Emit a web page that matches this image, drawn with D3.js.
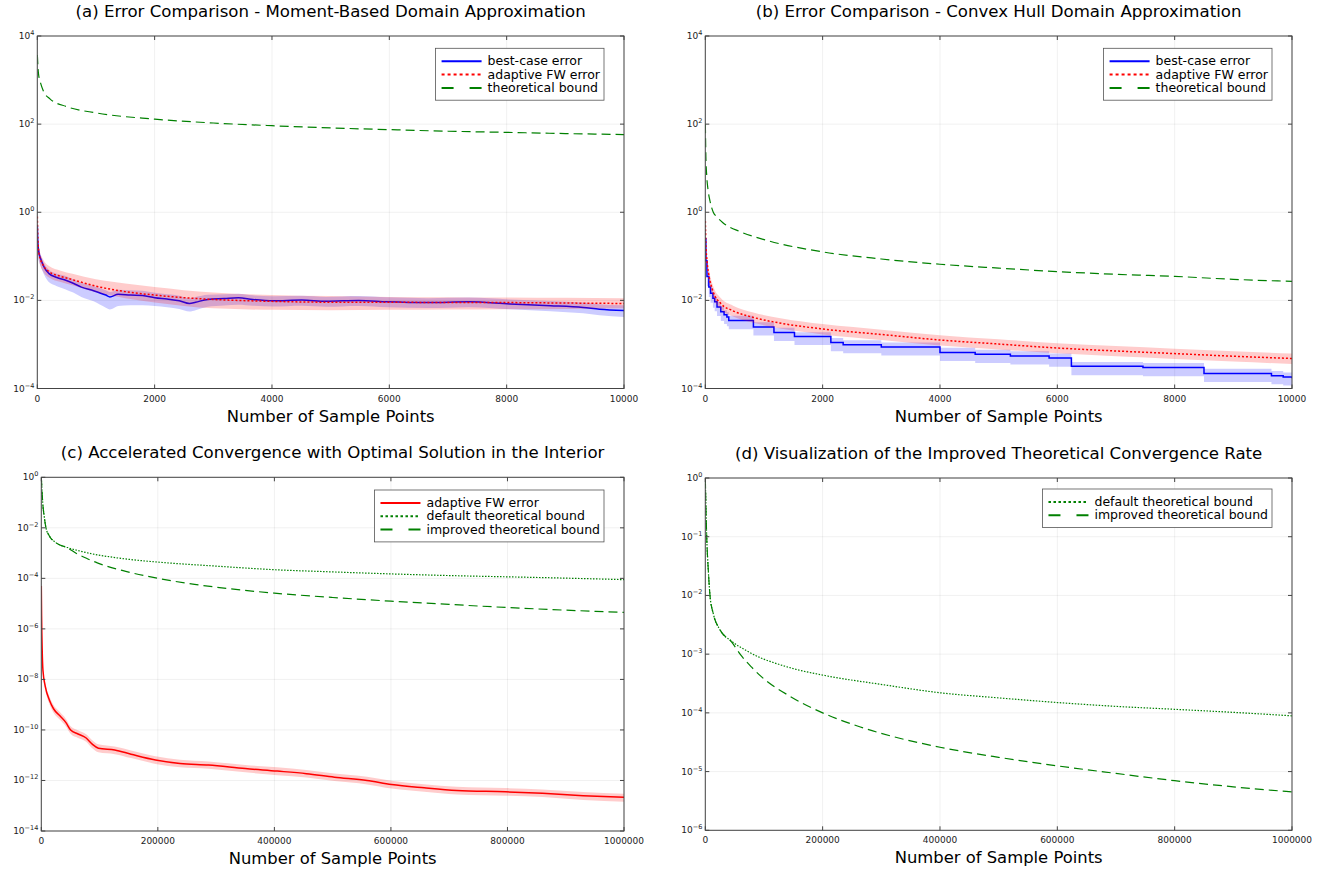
<!DOCTYPE html>
<html>
<head>
<meta charset="utf-8">
<script src="https://cdn.jsdelivr.net/npm/d3@7"></script>
<style>
  body { margin: 0; background: #fff; }
  text { font-family: "DejaVu Sans", sans-serif; fill: #000; }
</style>
</head>
<body>
<div id="chart"></div>
<script>
// ---------- panel (a): moment-based domain ----------
const aBestN = [1, 10, 30, 56, 125, 195, 334, 473, 612, 751, 960, 1168, 1238, 1377, 1585, 1794, 2003, 2211, 2420, 2594, 2698, 2907, 3185, 3428, 3672, 4019, 4506, 4923, 5480, 5967, 6662, 7357, 8053, 8748, 9305, 9583, 10000];
const aBest = [0.5, 0.2, 0.117, 0.089, 0.054, 0.041, 0.033, 0.029, 0.0245, 0.020, 0.0166, 0.0132, 0.012, 0.0138, 0.0132, 0.0129, 0.0115, 0.0107, 0.0098, 0.0085, 0.0091, 0.0105, 0.011, 0.0115, 0.0105, 0.0098, 0.0102, 0.0095, 0.010, 0.0093, 0.0089, 0.0093, 0.0083, 0.0076, 0.0069, 0.0063, 0.0059];
const aBestHi = [0.9, 0.3, 0.15, 0.11, 0.066, 0.05, 0.04, 0.036, 0.03, 0.025, 0.021, 0.017, 0.0155, 0.0175, 0.017, 0.0165, 0.0148, 0.0138, 0.0128, 0.0112, 0.012, 0.0135, 0.0138, 0.0142, 0.013, 0.0124, 0.0128, 0.012, 0.0125, 0.0117, 0.0112, 0.0116, 0.0105, 0.0097, 0.0089, 0.0082, 0.0078];
const aBestLo = [0.2, 0.1, 0.075, 0.06, 0.036, 0.026, 0.021, 0.018, 0.015, 0.012, 0.0095, 0.0068, 0.0062, 0.0075, 0.0078, 0.0078, 0.0075, 0.007, 0.0064, 0.0056, 0.006, 0.0072, 0.0077, 0.008, 0.0076, 0.0073, 0.0076, 0.0072, 0.0075, 0.007, 0.0067, 0.007, 0.0063, 0.0057, 0.0051, 0.0046, 0.0042];

const aFwN = [1, 10, 30, 100, 200, 400, 600, 1000, 1500, 2000, 2500, 3000, 4000, 5000, 6000, 7000, 8000, 9000, 10000];
const aFw = [0.8, 0.25, 0.112, 0.063, 0.045, 0.035, 0.0295, 0.021, 0.0158, 0.0132, 0.0115, 0.0105, 0.0095, 0.0091, 0.0091, 0.0089, 0.0089, 0.0087, 0.0085];
const aFwHi = [1.1, 0.35, 0.15, 0.085, 0.06, 0.047, 0.04, 0.03, 0.024, 0.020, 0.017, 0.015, 0.0132, 0.0125, 0.012, 0.0118, 0.0116, 0.0114, 0.0112];
const aFwLo = [0.5, 0.17, 0.08, 0.045, 0.033, 0.026, 0.022, 0.0152, 0.0112, 0.009, 0.0075, 0.0066, 0.0061, 0.006, 0.0061, 0.0062, 0.0063, 0.0064, 0.0066];

const aBoundN = [1, 20, 63, 100, 220, 500, 1000, 2000, 3000, 4000, 5000, 6000, 7000, 8000, 9000, 10000];
const aBound = [3700, 1400, 800, 580, 370, 250, 180, 130, 106, 92, 82, 75, 69, 65, 61, 58];

// ---------- panel (b): convex hull domain ----------
const bBestN = [1, 10, 28, 60, 90, 130, 160, 200, 264, 320, 368, 400, 820, 1170, 1520, 2140, 2350, 3000, 4000, 4600, 5200, 5860, 6240, 7460, 8500, 9650, 9850, 10000];
const bBest = [0.25, 0.079, 0.035, 0.02, 0.0145, 0.0112, 0.0093, 0.0071, 0.0055, 0.0047, 0.0042, 0.0035, 0.0025, 0.00186, 0.00151, 0.0011, 0.00098, 0.00087, 0.00066, 0.0006, 0.00055, 0.00049, 0.00032, 0.0003, 0.00022, 0.000195, 0.000182, 0.00017];
const bBestHi = [0.4, 0.11, 0.046, 0.026, 0.019, 0.0145, 0.012, 0.0092, 0.0071, 0.006, 0.0054, 0.0045, 0.0032, 0.0024, 0.0019, 0.0014, 0.00125, 0.0011, 0.00084, 0.00076, 0.0007, 0.00062, 0.0004, 0.00038, 0.00028, 0.00025, 0.00023, 0.00021];
const bBestLo = [0.12, 0.045, 0.021, 0.012, 0.0088, 0.0068, 0.0057, 0.0044, 0.0034, 0.0029, 0.0026, 0.0022, 0.0016, 0.0012, 0.00097, 0.0007, 0.00063, 0.00056, 0.00042, 0.00038, 0.00035, 0.00031, 0.0002, 0.00019, 0.00014, 0.000125, 0.000117, 0.00011];

const bFwN = [1, 10, 28, 56, 125, 264, 473, 820, 1307, 2000, 3050, 4000, 5000, 6000, 7000, 8000, 9000, 10000];
const bFw = [0.63, 0.2, 0.081, 0.041, 0.017, 0.0085, 0.0058, 0.0041, 0.0030, 0.00224, 0.00166, 0.00126, 0.00102, 0.00083, 0.00071, 0.00062, 0.00054, 0.00048];
const bFwHi = [0.85, 0.27, 0.11, 0.056, 0.023, 0.0113, 0.0076, 0.0053, 0.0039, 0.0029, 0.00214, 0.00162, 0.00131, 0.00107, 0.00092, 0.0008, 0.0007, 0.00062];
const bFwLo = [0.45, 0.15, 0.06, 0.03, 0.0125, 0.0063, 0.0043, 0.0031, 0.00226, 0.00169, 0.00125, 0.00095, 0.00077, 0.00063, 0.00054, 0.00047, 0.00041, 0.00036];

const bBoundN = [1, 10, 25, 50, 80, 136, 200, 300, 600, 1000, 2000, 3000, 4000, 5000, 6000, 7000, 8000, 9000, 10000];
const bBound = [100, 18, 6.5, 3.0, 1.8, 1.0, 0.78, 0.58, 0.36, 0.24, 0.126, 0.087, 0.066, 0.054, 0.045, 0.039, 0.035, 0.030, 0.027];

// ---------- panels (c), (d): interior optimum ----------
const cFwN = [1, 500, 1500, 2800, 7000, 14000, 21000, 31500, 42000, 50300, 63000, 77000, 87400, 98000, 126000, 154000, 196000, 238000, 287000, 350000, 405000, 455000, 503000, 559000, 601000, 657000, 713000, 797000, 860000, 930000, 1000000];
const cFw = [5e-5, 3.2e-6, 1.6e-7, 2.3e-8, 5.1e-9, 1.5e-9, 6.9e-10, 3.7e-10, 2.0e-10, 1.0e-10, 6.9e-11, 4.8e-11, 2.75e-11, 1.9e-11, 1.6e-11, 1.1e-11, 6.5e-12, 4.7e-12, 4.1e-12, 2.95e-12, 2.35e-12, 1.86e-12, 1.35e-12, 1.0e-12, 6.9e-13, 5.1e-13, 4.0e-13, 3.55e-13, 3.1e-13, 2.5e-13, 2.15e-13];
const cFwHi = [7e-5, 4.5e-6, 2.2e-7, 3.2e-8, 7.1e-9, 2.1e-9, 9.7e-10, 5.2e-10, 2.8e-10, 1.4e-10, 9.7e-11, 6.7e-11, 3.9e-11, 2.7e-11, 2.2e-11, 1.55e-11, 9.1e-12, 6.6e-12, 5.7e-12, 4.1e-12, 3.3e-12, 2.6e-12, 1.9e-12, 1.4e-12, 9.7e-13, 7.1e-13, 5.6e-13, 5.0e-13, 4.4e-13, 3.5e-13, 3.0e-13];
const cFwLo = [3.5e-5, 2.2e-6, 1.1e-7, 1.6e-8, 3.6e-9, 1.05e-9, 4.8e-10, 2.6e-10, 1.4e-10, 7e-11, 4.8e-11, 3.4e-11, 1.9e-11, 1.3e-11, 1.1e-11, 7.7e-12, 4.5e-12, 3.3e-12, 2.9e-12, 2.1e-12, 1.6e-12, 1.3e-12, 9.5e-13, 7e-13, 4.8e-13, 3.6e-13, 2.8e-13, 2.5e-13, 2.2e-13, 1.7e-13, 1.45e-13];

const defaultN = [1, 2400, 5100, 8000, 13600, 25000, 45000, 70000, 96000, 116000, 152000, 200000, 305000, 400000, 500000, 600000, 700000, 800000, 900000, 1000000];
const defaultBound = [1, 0.1, 0.027, 0.01, 0.0049, 0.0026, 0.00166, 0.00115, 0.00085, 0.00072, 0.00056, 0.00044, 0.0003, 0.00022, 0.00018, 0.00015, 0.000129, 0.000115, 0.000102, 8.9e-5];
const improvedN = [1, 2400, 5100, 8000, 13600, 25000, 45000, 61000, 79000, 96000, 145000, 200000, 263000, 318000, 400000, 500000, 600000, 700000, 800000, 900000, 1000000];
const improvedBound = [1, 0.1, 0.027, 0.01, 0.0049, 0.0026, 0.0016, 0.00095, 0.0006, 0.00041, 0.00019, 0.0001, 5.8e-5, 4.0e-5, 2.6e-5, 1.75e-5, 1.25e-5, 9.3e-6, 7.0e-6, 5.5e-6, 4.5e-6];

// tick labels
const smallXTicks = [0, 2000, 4000, 6000, 8000, 10000];
const bigXTicks = [0, 200000, 400000, 600000, 800000, 1000000];
const abExponents = [-4, -2, 0, 2, 4];
const cExponents = [-14, -12, -10, -8, -6, -4, -2, 0];
const dExponents = [-6, -5, -4, -3, -2, -1, 0];

const titles = [
  "(a) Error Comparison - Moment-Based Domain Approximation",
  "(b) Error Comparison - Convex Hull Domain Approximation",
  "(c) Accelerated Convergence with Optimal Solution in the Interior",
  "(d) Visualization of the Improved Theoretical Convergence Rate"
];
const xLabel = "Number of Sample Points";

const BLUE = '#0000ff', RED = '#ff0000', GREEN = '#008000';
const styles = {
  best: { color: BLUE, dash: null, width: 1.5, legendDash: null },
  fw: { color: RED, dash: '2,2', width: 1.5, legendDash: '3,3' },
  fwSolid: { color: RED, dash: null, width: 1.5, legendDash: null },
  bound: { color: GREEN, dash: '9,5', width: 1.2, legendDash: '12,16' },
  dflt: { color: GREEN, dash: '1.5,1.5', width: 1.2, legendDash: '2.5,2.5' },
};

const zip = (n, v) => n.map((d, i) => [d, v[i]]);

const svg = d3.select('#chart')
  .append('svg')
  .attr('width', 1328)
  .attr('height', 873);

let clipId = 0;

function drawPanel(p) {
  const x = d3.scaleLinear().domain([0, p.xMax]).range([p.left, p.right]);
  const y = d3.scaleLog().domain([Math.pow(10, p.exps[0]), Math.pow(10, p.exps[p.exps.length - 1])]).range([p.bottom, p.top]);
  const g = svg.append('g');

  // grid
  g.selectAll('.gx').data(p.xTicks).enter().append('line')
    .attr('x1', d => x(d)).attr('x2', d => x(d))
    .attr('y1', p.top).attr('y2', p.bottom)
    .attr('stroke', '#000').attr('stroke-opacity', 0.1).attr('stroke-width', 0.6);
  g.selectAll('.gy').data(p.exps).enter().append('line')
    .attr('x1', p.left).attr('x2', p.right)
    .attr('y1', d => y(Math.pow(10, d))).attr('y2', d => y(Math.pow(10, d)))
    .attr('stroke', '#000').attr('stroke-opacity', 0.1).attr('stroke-width', 0.6);

  // series
  clipId++;
  svg.append('clipPath').attr('id', 'clip' + clipId)
    .append('rect').attr('x', p.left).attr('y', p.top)
    .attr('width', p.right - p.left).attr('height', p.bottom - p.top);
  const plot = g.append('g').attr('clip-path', `url(#clip${clipId})`);

  p.series.forEach(s => {
    const curve = s.step ? d3.curveStepAfter : d3.curveMonotoneX;
    if (s.lo) {
      const area = d3.area()
        .x(d => x(d[0])).y0(d => y(d[1])).y1(d => y(d[2]))
        .curve(curve);
      plot.append('path')
        .datum(s.n.map((d, i) => [d, s.lo[i], s.hi[i]]))
        .attr('d', area)
        .attr('fill', s.style.color)
        .attr('fill-opacity', 0.2);
    }
    const line = d3.line().x(d => x(d[0])).y(d => y(d[1])).curve(curve);
    plot.append('path')
      .datum(zip(s.n, s.v))
      .attr('d', line)
      .attr('fill', 'none')
      .attr('stroke', s.style.color)
      .attr('stroke-width', s.style.width)
      .attr('stroke-dasharray', s.style.dash);
  });

  // frame and ticks
  g.append('rect')
    .attr('x', p.left).attr('y', p.top)
    .attr('width', p.right - p.left).attr('height', p.bottom - p.top)
    .attr('fill', 'none').attr('stroke', '#444').attr('stroke-width', 1);
  p.exps.forEach(e => {
    const yy = y(Math.pow(10, e));
    g.append('line').attr('x1', p.left).attr('x2', p.left + 4).attr('y1', yy).attr('y2', yy).attr('stroke', '#444');
    g.append('line').attr('x1', p.right - 4).attr('x2', p.right).attr('y1', yy).attr('y2', yy).attr('stroke', '#444');
    const t = g.append('text')
      .attr('x', p.left - 3)
      .attr('y', yy + 3)
      .attr('text-anchor', 'end')
      .attr('font-size', 9)
      .style('fill', '#222')
      .text('10');
    t.append('tspan')
      .attr('dy', -4)
      .attr('font-size', 6.5)
      .text(String(e).replace('-', '\u2212'));
  });
  p.xTicks.forEach(v => {
    g.append('line').attr('x1', x(v)).attr('x2', x(v)).attr('y1', p.bottom).attr('y2', p.bottom - 4).attr('stroke', '#444');
    g.append('line').attr('x1', x(v)).attr('x2', x(v)).attr('y1', p.top).attr('y2', p.top + 4).attr('stroke', '#444');
    g.append('text')
      .attr('x', x(v))
      .attr('y', p.bottom + 13)
      .attr('text-anchor', 'middle')
      .attr('font-size', 9)
      .style('fill', '#222')
      .text(v);
  });

  // title + axis label
  g.append('text')
    .attr('x', (p.left + p.right) / 2)
    .attr('y', p.top - 19)
    .attr('text-anchor', 'middle')
    .attr('font-size', 16.6)
    .text(p.title);
  g.append('text')
    .attr('x', (p.left + p.right) / 2)
    .attr('y', p.bottom + 33)
    .attr('text-anchor', 'middle')
    .attr('font-size', 16.4)
    .text(xLabel);

  // legend
  const lg = g.append('g');
  const rowH = 13.3;
  const box = lg.append('rect')
    .attr('fill', '#fff').attr('stroke', '#555').attr('stroke-width', 0.8);
  let maxW = 0;
  p.legend.forEach((it, i) => {
    const cy = p.legendTop + 13 + i * rowH;
    lg.append('line')
      .attr('x1', 0).attr('x2', 40).attr('y1', cy).attr('y2', cy)
      .attr('stroke', it.style.color).attr('stroke-width', 2)
      .attr('stroke-dasharray', it.style.legendDash);
    const t = lg.append('text')
      .attr('x', 46).attr('y', cy + 4)
      .attr('font-size', 12.5)
      .text(it.label);
    maxW = Math.max(maxW, t.node().getComputedTextLength());
  });
  const boxW = 6 + 46 + maxW + 4;
  const boxX = p.right - 20 - boxW;
  box.attr('x', 0).attr('y', p.legendTop)
    .attr('width', boxW).attr('height', p.legend.length * rowH + 12);
  lg.selectAll('line, text').attr('transform', 'translate(6,0)');
  lg.attr('transform', `translate(${boxX},0)`);
}

drawPanel({
  left: 37.3, right: 624, top: 36, bottom: 388.5,
  xMax: 10000, xTicks: smallXTicks, exps: abExponents,
  title: titles[0], legendTop: 48.3,
  series: [
    { n: aBestN, v: aBest, lo: aBestLo, hi: aBestHi, style: styles.best },
    { n: aFwN, v: aFw, lo: aFwLo, hi: aFwHi, style: styles.fw },
    { n: aBoundN, v: aBound, style: styles.bound }
  ],
  legend: [
    { label: 'best-case error', style: styles.best },
    { label: 'adaptive FW error', style: styles.fw },
    { label: 'theoretical bound', style: styles.bound }
  ]
});

drawPanel({
  left: 705.3, right: 1292, top: 36, bottom: 388.5,
  xMax: 10000, xTicks: smallXTicks, exps: abExponents,
  title: titles[1], legendTop: 48.3,
  series: [
    { n: bBestN, v: bBest, lo: bBestLo, hi: bBestHi, style: styles.best, step: true },
    { n: bFwN, v: bFw, lo: bFwLo, hi: bFwHi, style: styles.fw },
    { n: bBoundN, v: bBound, style: styles.bound }
  ],
  legend: [
    { label: 'best-case error', style: styles.best },
    { label: 'adaptive FW error', style: styles.fw },
    { label: 'theoretical bound', style: styles.bound }
  ]
});

drawPanel({
  left: 41.3, right: 624, top: 477.3, bottom: 831,
  xMax: 1000000, xTicks: bigXTicks, exps: cExponents,
  title: titles[2], legendTop: 490,
  series: [
    { n: cFwN, v: cFw, lo: cFwLo, hi: cFwHi, style: styles.fwSolid },
    { n: defaultN, v: defaultBound, style: styles.dflt },
    { n: improvedN, v: improvedBound, style: styles.bound }
  ],
  legend: [
    { label: 'adaptive FW error', style: styles.fwSolid },
    { label: 'default theoretical bound', style: styles.dflt },
    { label: 'improved theoretical bound', style: styles.bound }
  ]
});

drawPanel({
  left: 705.3, right: 1292, top: 478, bottom: 830.3,
  xMax: 1000000, xTicks: bigXTicks, exps: dExponents,
  title: titles[3], legendTop: 489,
  series: [
    { n: defaultN, v: defaultBound, style: styles.dflt },
    { n: improvedN, v: improvedBound, style: styles.bound }
  ],
  legend: [
    { label: 'default theoretical bound', style: styles.dflt },
    { label: 'improved theoretical bound', style: styles.bound }
  ]
});
</script>
</body>
</html>
